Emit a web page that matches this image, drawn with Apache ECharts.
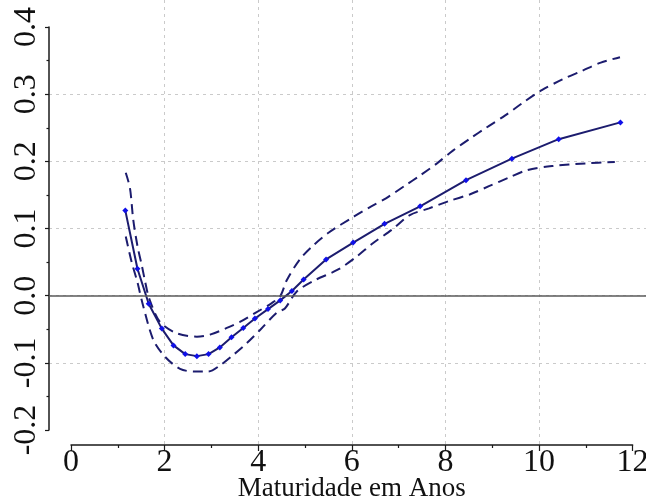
<!DOCTYPE html>
<html>
<head>
<meta charset="utf-8">
<script src="https://cdn.jsdelivr.net/npm/echarts@6/dist/echarts.min.js"></script>
<style>
html,body{margin:0;padding:0;background:#fff;}
#chart{width:646px;height:503px;}
</style>
</head>
<body>
<div id="chart"></div>
<script>
// ---- data ----
const xTicks = [0, 2, 4, 6, 8, 10, 12];
const yTicks = [-0.2, -0.1, 0.0, 0.1, 0.2, 0.3, 0.4];
const xTitle = 'Maturidade em Anos';

const maturity = [1.16, 1.42, 1.66, 1.94, 2.19, 2.44, 2.69, 2.94, 3.18, 3.43, 3.68, 3.93,
                  4.21, 4.47, 4.72, 4.97, 5.45, 6.03, 6.70, 7.46, 8.44, 9.42, 10.42, 11.74];
const estimate = [0.127, 0.040, -0.012, -0.049, -0.074, -0.087, -0.090, -0.087, -0.077, -0.062, -0.048, -0.034,
                  -0.020, -0.007, 0.007, 0.024, 0.054, 0.079, 0.107, 0.133, 0.172, 0.204, 0.233, 0.258];

const upperX = [1.17, 1.26, 1.33, 1.42, 1.51, 1.59, 1.67, 1.90, 2.26, 2.69, 2.97, 3.33, 3.61, 3.93, 4.29, 4.47,
                4.61, 4.89, 5.18, 5.51, 6.05, 6.39, 6.73, 7.14, 7.46, 7.82, 8.16, 8.55, 8.87, 9.27, 9.65,
                10.06, 10.50, 10.93, 11.32, 11.73];
const upperY = [0.183, 0.160, 0.113, 0.074, 0.046, 0.019, -0.004, -0.039, -0.056, -0.061, -0.058, -0.048, -0.039, -0.026, -0.011, -0.001,
                0.023, 0.054, 0.075, 0.094, 0.118, 0.132, 0.145, 0.164, 0.179, 0.197, 0.216, 0.235, 0.250, 0.268, 0.287,
                0.306, 0.322, 0.335, 0.347, 0.355];

const lowerX = [1.17, 1.30, 1.42, 1.53, 1.76, 2.01, 2.33, 2.65, 2.93, 3.18, 3.47, 3.75, 4.04, 4.40, 4.57, 4.82,
                5.21, 5.71, 6.10, 6.45, 6.87, 7.24, 7.65, 8.08, 8.53, 8.93, 9.36, 9.75, 10.28, 11.00, 11.62];
const lowerY = [0.088, 0.049, 0.020, -0.012, -0.066, -0.091, -0.109, -0.113, -0.113, -0.104, -0.088, -0.071, -0.051, -0.025, -0.019, 0.006,
                0.023, 0.039, 0.058, 0.078, 0.099, 0.120, 0.130, 0.141, 0.151, 0.163, 0.176, 0.187, 0.193, 0.197, 0.199];

// ---- build ----
const pair = (xs, ys) => xs.map((x, i) => [x, ys[i]]);
const serif = 'Liberation Serif';
const navy = '#1c1c6e';
const ink = '#1a1a1a';

const chart = echarts.init(document.getElementById('chart'), null, {renderer: 'canvas'});

const hiddenAxis = (grid, min, max) => ({
  gridIndex: grid, type: 'value', min: min, max: max, show: false,
  axisLine: {show: false, onZero: false}, axisTick: {show: false},
  axisLabel: {show: false}, splitLine: {show: false}
});

const option = {
  animation: false,
  backgroundColor: '#ffffff',
  grid: [
    {left: 49, right: 0, top: 0, bottom: 58, containLabel: false, outerBoundsMode: 'none'},
    {left: 71, right: 13.4, top: 27, bottom: 73, containLabel: false, outerBoundsMode: 'none'},
    {left: 71, right: 13.4, top: 0, bottom: 58, containLabel: false, outerBoundsMode: 'none'}
  ],
  xAxis: [
    {
      gridIndex: 0, type: 'value', min: -0.470, max: 12.286, splitNumber: 6,
      axisLine: {show: false, onZero: false}, axisLabel: {show: false},
      axisTick: {show: false, customValues: xTicks},
      splitLine: {show: true, showMinLine: false, showMaxLine: false,
                  lineStyle: {color: '#cacaca', width: 1, type: [3, 4]}}
    },
    hiddenAxis(1, 0, 12),
    {
      gridIndex: 2, type: 'value', min: 0, max: 12, interval: 2, position: 'bottom',
      axisLine: {show: true, onZero: false, lineStyle: {color: ink, width: 1.5}},
      axisTick: {show: true, inside: false, length: 6, lineStyle: {color: ink, width: 1.2}},
      minorTick: {show: true, splitNumber: 2, length: 3, lineStyle: {color: ink, width: 1.2}},
      splitLine: {show: false},
      axisLabel: {show: true, margin: 2, fontSize: 32, fontFamily: serif, color: '#111',
                  customValues: xTicks, formatter: v => String(v)},
      name: xTitle, nameLocation: 'middle', nameGap: 30, nameMoveOverlap: false,
      nameTextStyle: {fontSize: 27, fontFamily: serif, color: '#111'}
    }
  ],
  yAxis: [
    {
      gridIndex: 0, type: 'value', min: -0.2223, max: 0.4402, splitNumber: 6,
      axisLine: {show: false, onZero: false}, axisLabel: {show: false},
      axisTick: {show: false, customValues: yTicks},
      splitLine: {show: true, showMinLine: false, showMaxLine: false,
                  lineStyle: {color: '#cacaca', width: 1, type: [3, 4]}}
    },
    {
      gridIndex: 1, type: 'value', min: -0.2, max: 0.4, interval: 0.1, offset: 22, position: 'left',
      axisLine: {show: true, onZero: false, lineStyle: {color: ink, width: 1.5}},
      axisTick: {show: true, inside: false, length: 4, lineStyle: {color: ink, width: 1.2}},
      minorTick: {show: true, splitNumber: 2, length: 2.5, lineStyle: {color: ink, width: 1.2}},
      splitLine: {show: false},
      axisLabel: {show: true, rotate: 90, margin: 6, fontSize: 32, fontFamily: serif, color: '#111',
                  formatter: v => (Math.abs(v) < 1e-9 ? 0 : v).toFixed(1)}
    },
    hiddenAxis(2, 0, 1)
  ],
  series: [
    {
      type: 'line', xAxisIndex: 0, yAxisIndex: 0, name: 'upper',
      data: pair(upperX, upperY), symbol: 'none', smooth: 0.3,
      lineStyle: {color: navy, width: 2, type: [10, 6]}, z: 3
    },
    {
      type: 'line', xAxisIndex: 0, yAxisIndex: 0, name: 'lower',
      data: pair(lowerX, lowerY), symbol: 'none', smooth: 0.3,
      lineStyle: {color: navy, width: 2, type: [10, 6]}, z: 3
    },
    {
      type: 'line', xAxisIndex: 0, yAxisIndex: 0, name: 'estimate',
      data: pair(maturity, estimate), symbol: 'diamond', symbolSize: 6,
      itemStyle: {color: '#1010e8', borderWidth: 0},
      lineStyle: {color: navy, width: 2}, z: 4,
      markLine: {
        silent: true, symbol: 'none', label: {show: false},
        lineStyle: {color: '#5a5a5a', width: 1.5, type: 'solid'},
        data: [{yAxis: 0}]
      }
    }
  ]
};
chart.setOption(option);
</script>
</body>
</html>
